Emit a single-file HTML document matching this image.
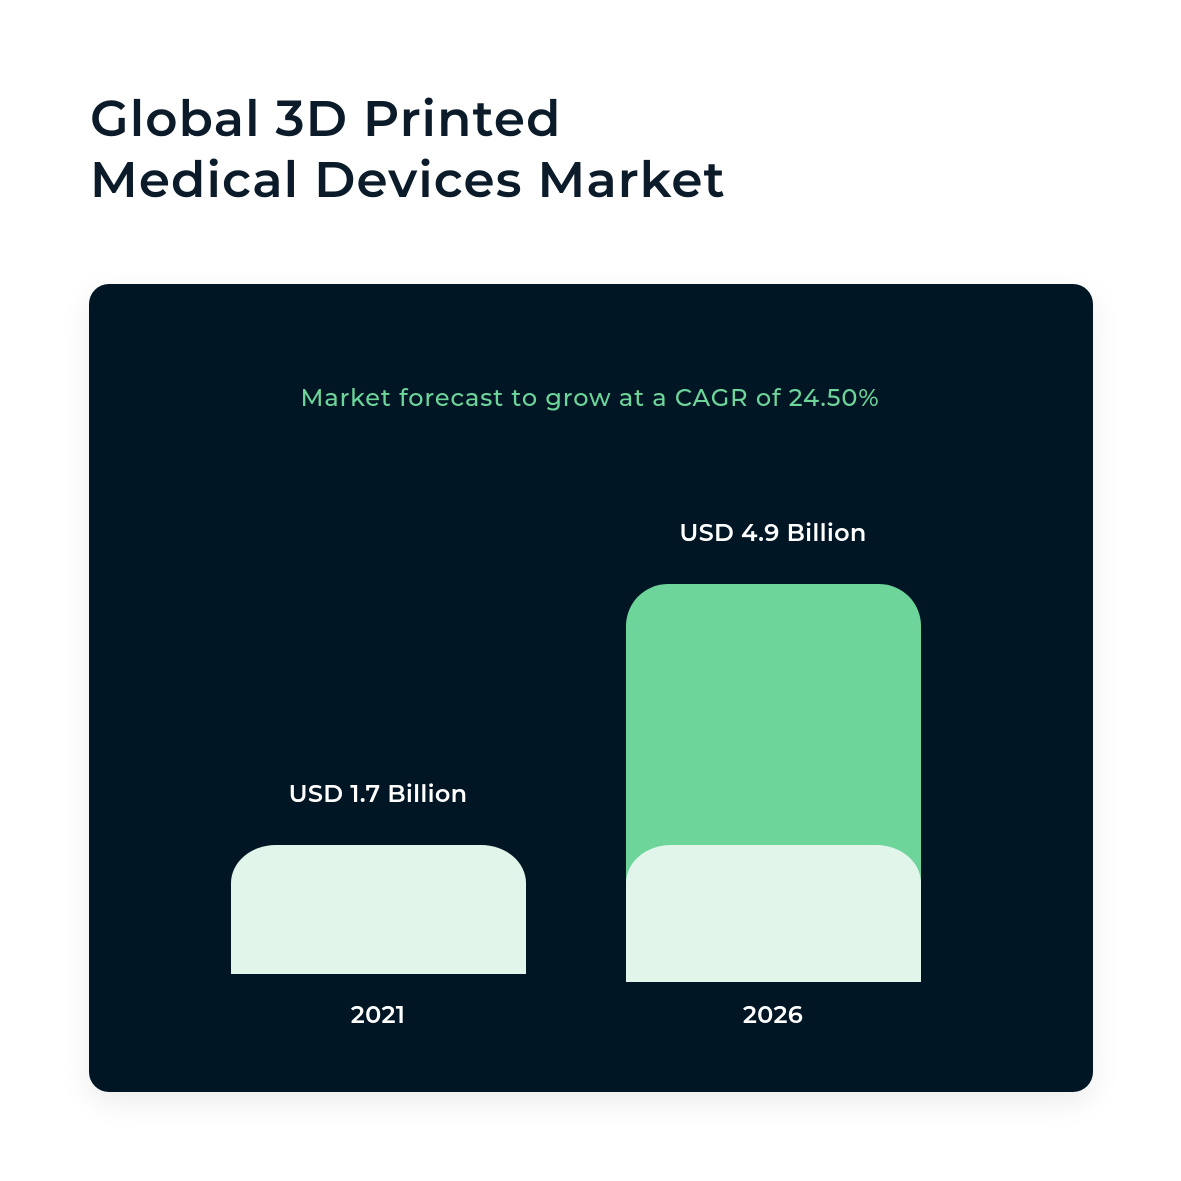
<!DOCTYPE html>
<html><head><style>
body{margin:0;width:1181px;height:1181px;background:#fff;position:relative;overflow:hidden;font-family:"Montserrat","Liberation Sans",sans-serif}
.t{position:absolute;left:90px;top:88px;font-size:50px;line-height:61px;font-weight:600;color:#0b1b2a;letter-spacing:1.1px}
.card{position:absolute;left:89px;top:284px;width:1004px;height:808px;background:#011624;border-radius:20px;box-shadow:0 10px 30px rgba(0,0,0,0.08)}
.a{position:absolute;color:#fff;font-weight:600;font-size:24px;text-align:center;width:400px;letter-spacing:0.3px}
.b{position:absolute}
</style></head><body>
<div class="t">Global 3D Printed<br>Medical Devices Market</div>
<div class="card"></div>
<div class="a" style="left:240px;top:384px;width:700px;color:#6dd49a;font-weight:500;font-size:24px;letter-spacing:0.9px">Market forecast to grow at a CAGR of 24.50%</div>
<div class="a" style="left:178px;top:780px">USD 1.7 Billion</div>
<div class="a" style="left:573px;top:519px">USD 4.9 Billion</div>
<div class="b" style="left:231px;top:845px;width:295px;height:129px;background:#e1f5ea;border-radius:45px 45px 0 0/38px 38px 0 0"></div>
<div class="b" style="left:626px;top:584px;width:295px;height:398px;background:#6dd49a;border-radius:42px 42px 0 0"></div>
<div class="b" style="left:626px;top:845px;width:295px;height:137px;background:#e1f5ea;border-radius:45px 45px 0 0/38px 38px 0 0"></div>
<div class="a" style="left:178px;top:1001px">2021</div>
<div class="a" style="left:573px;top:1001px">2026</div>
</body></html>
